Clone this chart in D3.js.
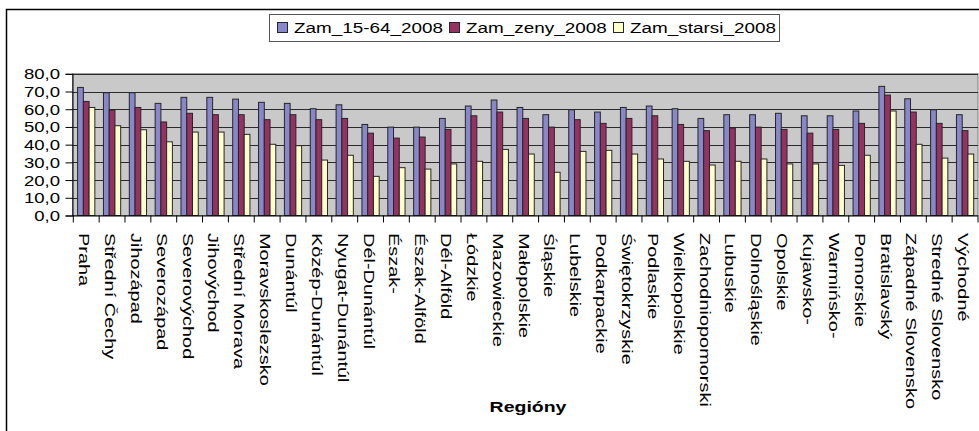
<!DOCTYPE html>
<html>
<head>
<meta charset="utf-8">
<script src="https://cdn.jsdelivr.net/npm/d3@7"></script>
<style>
  html, body { margin: 0; padding: 0; background: #fff; }
  svg { display: block; }
  text { font-family: "Liberation Sans", Arial, sans-serif; fill: #000; }
</style>
</head>
<body>
<svg id="chart" width="979" height="431"></svg>
<script>
const categories = ["Praha", "Střední Čechy", "Jihozápad", "Severozápad", "Severovýchod", "Jihovýchod", "Střední Morava", "Moravskoslezsko",
  "Dunántúl", "Közép-Dunántúl", "Nyugat-Dunántúl", "Dél-Dunántúl", "Észak-", "Észak-Alföld", "Dél-Alföld",
  "Łódzkie", "Mazowieckie", "Małopolskie", "Śląskie", "Lubelskie", "Podkarpackie", "Świętokrzyskie", "Podlaskie",
  "Wielkopolskie", "Zachodniopomorski", "Lubuskie", "Dolnośląskie", "Opolskie", "Kujawsko-", "Warmińsko-", "Pomorskie",
  "Bratislavský", "Západné Slovensko", "Stredné Slovensko", "Východné"];

const seriesNames = ["Zam_15-64_2008", "Zam_zeny_2008", "Zam_starsi_2008"];

const zam1564 = [72.3, 69.3, 69.3, 63.3, 66.7, 66.7, 65.7, 63.9, 63.3, 60.3, 62.5, 51.4, 49.9, 49.9, 54.8, 61.8, 65.2, 61.0, 56.9, 59.7, 58.4, 61.0, 61.8, 60.3, 54.8, 56.9, 56.9, 57.7, 56.3, 56.3, 59.0, 72.9, 65.9, 59.7, 56.9];
const zamZeny = [64.4, 59.5, 61.0, 52.8, 57.7, 56.9, 56.9, 54.1, 56.9, 54.1, 54.8, 46.5, 43.7, 44.3, 48.6, 56.3, 58.4, 54.8, 49.9, 54.1, 52.0, 54.8, 56.3, 51.4, 47.9, 49.4, 49.9, 48.6, 46.5, 48.6, 52.0, 68.0, 58.4, 52.0, 47.9];
const zamStarsi = [61.0, 50.7, 48.4, 41.6, 47.1, 47.1, 45.8, 40.2, 39.4, 31.3, 34.0, 22.1, 27.0, 26.2, 29.1, 30.6, 37.3, 34.7, 24.4, 36.2, 36.8, 34.7, 31.9, 30.6, 28.5, 30.6, 31.9, 29.1, 29.1, 28.3, 34.0, 59.0, 40.2, 32.4, 34.7];

const yTicks = [0, 10, 20, 30, 40, 50, 60, 70, 80];
const axisTitle = "Regióny";

const colors = ["#8787c9", "#963262", "#ffffcc"];
const seriesData = [zam1564, zamZeny, zamStarsi];

const svg = d3.select("#chart");

// Outer chart frame
svg.append("rect").attr("x", 6.5).attr("y", 9.5).attr("width", 1000).attr("height", 500)
  .attr("fill", "none").attr("stroke", "#000").attr("stroke-width", 1.5);

const plot = { left: 72.5, right: 978, top: 73.8, bottom: 215.5 };

const x = d3.scaleBand().domain(categories).range([73.3, 978]).paddingInner(0).paddingOuter(0);
const y = d3.scaleLinear().domain([0, 80]).range([plot.bottom, plot.top]);

// plot area
svg.append("rect")
  .attr("x", plot.left).attr("y", y(80))
  .attr("width", plot.right - plot.left).attr("height", y(0) - y(80))
  .attr("fill", "#c9c9c9").attr("stroke", "#7a7a7a").attr("stroke-width", 1);

// gridlines
svg.append("g").selectAll("line").data(yTicks.filter(d => d > 0)).join("line")
  .attr("x1", plot.left).attr("x2", plot.right)
  .attr("y1", d => Math.round(y(d)) + 0.5).attr("y2", d => Math.round(y(d)) + 0.5)
  .attr("stroke", "#2a2a2a").attr("stroke-width", 1);

// bars
const bw = x.bandwidth() / 4.5;
const inner = d3.scaleBand().domain(d3.range(3)).range([0, 3 * bw]).padding(0);
const off = (x.bandwidth() - 3 * bw) / 2;

const g = svg.append("g");
seriesData.forEach((vals, si) => {
  g.append("g").selectAll("rect").data(vals).join("rect")
    .attr("x", (d, i) => x(categories[i]) + off + inner(si))
    .attr("y", d => y(d))
    .attr("width", inner.bandwidth())
    .attr("height", d => y(0) - y(d))
    .attr("fill", colors[si])
    .attr("stroke", "#262626").attr("stroke-width", 1);
});

// y axis
const yAxisG = svg.append("g").attr("transform", `translate(${plot.left},0)`)
  .call(d3.axisLeft(y).tickValues(yTicks).tickSize(7).tickFormat(() => ""));
yAxisG.select(".domain").attr("stroke", "#000");
yAxisG.selectAll(".tick line").attr("stroke", "#000");

svg.append("g").selectAll("text").data(yTicks).join("text")
  .attr("transform", d => `translate(60,${y(d) + 5.5}) scale(1.28,1)`)
  .attr("text-anchor", "end")
  .attr("font-size", 14.5)
  .text(d => d3.format(".1f")(d).replace(".", ","));

// x axis
const xAxisG = svg.append("g").attr("transform", `translate(0,${plot.bottom})`)
  .call(d3.axisBottom(x).tickSize(0).tickFormat(() => ""));
xAxisG.select(".domain").attr("stroke", "#000").attr("d", `M${plot.left},0.5H${plot.right}`);
const bounds = categories.map(c => x(c)).concat([x.range()[1]]);
xAxisG.append("g").selectAll("line").data(bounds).join("line")
  .attr("x1", d => d).attr("x2", d => d).attr("y1", 0).attr("y2", 7)
  .attr("stroke", "#000");

// category labels (rotated)
svg.append("g").selectAll("text").data(categories).join("text")
  .attr("transform", d => `translate(${x(d) + x.bandwidth() / 2},233) rotate(90) scale(1.33,1)`)
  .attr("x", 0).attr("y", 7)
  .attr("font-size", 15)
  .text(d => d);

// axis title
svg.append("text")
  .attr("transform", `translate(528,412) scale(1.3,1)`)
  .attr("text-anchor", "middle")
  .attr("font-size", 15).attr("font-weight", "bold")
  .text(axisTitle);

// legend
const lg = svg.append("g");
lg.append("rect").attr("x", 269.5).attr("y", 14.5).attr("width", 510).attr("height", 27)
  .attr("fill", "#fff").attr("stroke", "#555").attr("stroke-width", 1);
const legendX = [277, 449, 613];
seriesNames.forEach((n, i) => {
  lg.append("rect").attr("x", legendX[i] + 0.5).attr("y", 22.5).attr("width", 10).attr("height", 10)
    .attr("fill", colors[i]).attr("stroke", "#262626");
  lg.append("text")
    .attr("transform", `translate(${legendX[i] + 17},33) scale(1.26,1)`)
    .attr("font-size", 15)
    .text(n);
});
</script>
</body>
</html>
